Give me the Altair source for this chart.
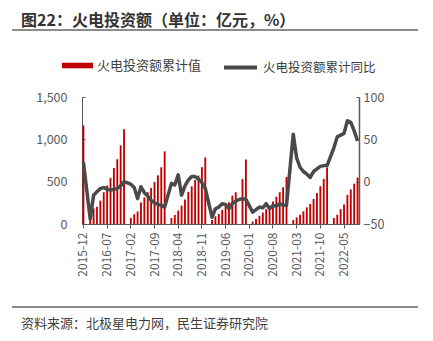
import altair as alt
import pandas as pd

# ---------------- data ----------------
months = []
yy, mm = 2015, 12
while (yy, mm) <= (2022, 9):
    months.append(f"{yy}-{mm:02d}")
    mm += 1
    if mm > 12:
        mm, yy = 1, yy + 1

x_ticks = ["2015-12", "2016-07", "2017-02", "2017-09", "2018-04", "2018-11",
           "2019-06", "2020-01", "2020-08", "2021-03", "2021-10", "2022-05"]

# cumulative investment (亿元), Jan has no data
bar_2015 = [1163]
bar_2016 = [None, 110, 185, 205, 276, 375, 455, 545, 660, 765, 930, 1119]
bar_2017 = [None, 72, 115, 148, 255, 315, 375, 425, 495, 575, 670, 858]
bar_2018 = [None, 70, 107, 158, 217, 290, 380, 445, 520, 572, 671, 786]
bar_2019 = [None, 47, 90, 118, 166, 217, 256, 335, 375, None, 530, 762]
bar_2020 = [None, 30, 60, 97, 136, 176, 216, 265, 322, 375, 434, 555]
bar_2021 = [None, 47, 79, 110, 150, 197, 236, 296, 367, 446, 533, 668]
bar_2022 = [None, 70, 110, 176, 230, 344, 408, 476, 548]

# cumulative YoY (%)
yoy_2015 = [23]
yoy_2016 = [None, -44, -16, -12, -8, -7, -9, -10, -9, -8, -5, 0]
yoy_2017 = [None, -3, -7, -20, -6, -13, -17, -22, -25, -27, -28, -30]
yoy_2018 = [None, -2, -4, 8, -16, -5, 2, 6, 6, 3, -1, -8]
yoy_2019 = [None, -42, -32, -30, -26, -27, -32, -26, -23, -21, -20, -21]
yoy_2020 = [None, -36, -33, -30, -31, -26, -32, -28, -29, -26, -28, -28]
yoy_2021 = [None, 56, 28, 17, 12, 9, 5, 12, 15, 18, 19, 19]
yoy_2022 = [None, 40, 53, 55, 57, 72, 70, 60, 48]

bars = bar_2015 + bar_2016 + bar_2017 + bar_2018 + bar_2019 + bar_2020 + bar_2021 + bar_2022
yoys = yoy_2015 + yoy_2016 + yoy_2017 + yoy_2018 + yoy_2019 + yoy_2020 + yoy_2021 + yoy_2022

df = pd.DataFrame({"month": months, "bar": bars, "yoy": yoys})

title_text = "图22：火电投资额（单位：亿元，%）"
source_text = "资料来源：北极星电力网，民生证券研究院"
bar_name = "火电投资额累计值"
line_name = "火电投资额累计同比"

FONT = "Noto Sans CJK SC"
AX = "#595959"
TXT = "#404040"

W, H = 277, 127
PL, PT = 82, 97

x_scale = alt.Scale(type="band", domain=months, paddingInner=0.45, paddingOuter=0.15)
x_axis = alt.Axis(values=x_ticks, title=None, labelAngle=270, tickSize=4, labelPadding=4,
                  domainColor=AX, tickColor=AX, labelColor=AX, labelFont=FONT,
                  labelFontSize=12, grid=False)

bar_layer = alt.Chart(df).transform_calculate(s1=f'"{bar_name}"').mark_bar().encode(
    x=alt.X("month:O", scale=x_scale, axis=x_axis),
    y=alt.Y("bar:Q", scale=alt.Scale(domain=[0, 1500], nice=False),
            axis=alt.Axis(values=[0, 500, 1000, 1500], format=",.0f", title=None, grid=False,
                          tickSize={"expr": "-3"}, labelPadding=18, domainColor=AX,
                          tickColor=AX, labelColor=AX, labelFont=FONT, labelFontSize=12.5)),
    fill=alt.Fill("s1:N", scale=alt.Scale(domain=[bar_name], range=["#C00000"]),
                  legend=alt.Legend(title=None, orient="none", legendX=-20, legendY=-47,
                                    symbolType="M-1,-0.18H1V0.18H-1Z", symbolSize=961,
                                    symbolStrokeWidth=0, labelFont=FONT, labelFontSize=13,
                                    labelColor=TXT, labelOffset=4, padding=0)),
)

line_layer = alt.Chart(df).transform_filter("isValid(datum.yoy)").transform_calculate(
    s2=f'"{line_name}"').mark_line(strokeWidth=3.5, strokeJoin="round").encode(
    x=alt.X("month:O", bandPosition=0.5, scale=x_scale, axis=x_axis),
    y=alt.Y("yoy:Q", scale=alt.Scale(domain=[-50, 100], nice=False),
            axis=alt.Axis(orient="right", values=[-50, 0, 50, 100], title=None, grid=False,
                          tickSize={"expr": "-3"}, labelPadding=7, domainColor=AX,
                          domainWidth=1.5, tickColor=AX, labelColor=AX, labelFont=FONT,
                          labelFontSize=12.5)),
    stroke=alt.Stroke("s2:N", scale=alt.Scale(domain=[line_name], range=["#4a4a4a"]),
                      legend=alt.Legend(title=None, orient="none", legendX=140, legendY=-48,
                                        symbolType="stroke", symbolSize=1089,
                                        symbolStrokeWidth=4, labelFont=FONT,
                                        labelFontSize=12.5, labelColor=TXT, labelOffset=4,
                                        padding=0)),
)

one = alt.Data(values=[{"t": title_text, "s": source_text}])

title_layer = alt.Chart(one).mark_text(
    align="left", baseline="alphabetic", font=FONT, fontSize=16, fontWeight="bold",
    color="#333333").encode(x=alt.value(21 - PL), y=alt.value(26 - PT), text="t:N")

source_layer = alt.Chart(one).mark_text(
    align="left", baseline="alphabetic", font=FONT, fontSize=13,
    color=TXT).encode(x=alt.value(21 - PL), y=alt.value(328 - PT), text="s:N")

rule_top = alt.Chart(one).mark_rule(color="#666666", strokeWidth=1.5).encode(
    x=alt.value(12 - PL), x2=alt.value(418 - PL), y=alt.value(30 - PT))
rule_bot = alt.Chart(one).mark_rule(color="#666666", strokeWidth=1.5).encode(
    x=alt.value(12 - PL), x2=alt.value(418 - PL), y=alt.value(307 - PT))

chart = alt.layer(bar_layer, line_layer, title_layer, source_layer, rule_top, rule_bot).resolve_scale(
    y="independent").properties(
    width=W, height=H,
    autosize=alt.AutoSizeParams(type="none"),
    padding={"left": PL, "top": PT, "right": 433 - PL - W, "bottom": 341 - PT - H},
).configure_view(stroke=None)

chart.save("out.html", embed_options={"renderer": "svg", "actions": False})
